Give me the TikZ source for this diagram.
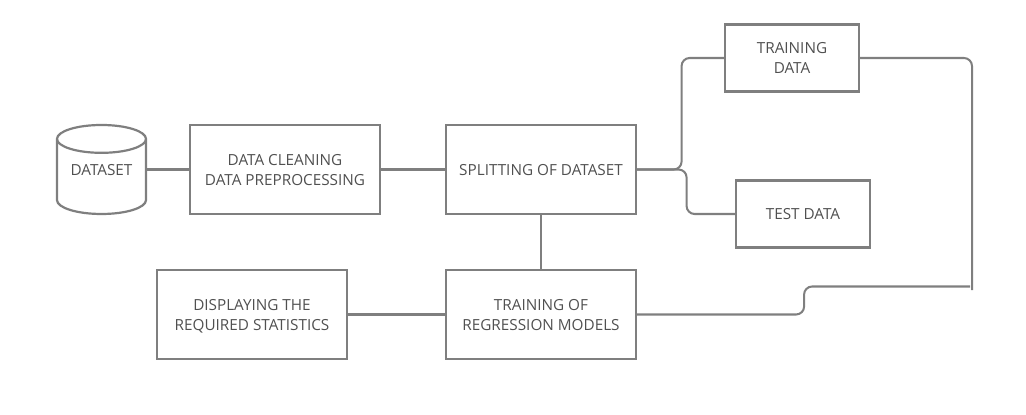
\documentclass[tikz,border=0pt]{standalone}
\usepackage{fontspec}
\setmainfont{Open Sans}
\usetikzlibrary{shapes.geometric}

\definecolor{boxgray}{HTML}{7F7F7F}
\definecolor{labelgray}{HTML}{505050}
\tikzset{
    block/.style={draw=boxgray, line width=1.25pt, text=labelgray, align=center, font=\fontsize{8.7}{11.4}\selectfont,
        minimum width=3.8cm, minimum height=1.78cm, inner sep=0pt, text depth=-2.2pt},
    smallblock/.style={block, minimum width=2.68cm, minimum height=1.34cm},
    wire/.style={draw=boxgray, line width=1.15pt, rounded corners=0.16cm},
}

\begin{document}
\begin{tikzpicture}
    \useasboundingbox (0,0) rectangle (20.52,8.28);

    \node[draw=boxgray, line width=1.25pt, text=labelgray, font=\fontsize{8.7}{11.4}\selectfont, shape=cylinder,
        shape border rotate=90, aspect=0.45, minimum height=1.78cm, minimum width=1.78cm, inner sep=0pt] (dataset) at (2.03,4.74) {\raisebox{1.1pt}[0pt][0pt]{DATASET}};
    \node[block] (clean) at (5.70,4.89) {DATA CLEANING\\DATA PREPROCESSING};
    \node[block] (split) at (10.82,4.89) {SPLITTING OF DATASET};
    \node[block] (regress) at (10.82,1.99) {TRAINING OF\\REGRESSION MODELS};
    \node[block] (stats) at (5.04,1.99) {DISPLAYING THE\\REQUIRED STATISTICS};
    \node[smallblock] (trainset) at (15.84,7.12) {TRAINING\\DATA};
    \node[smallblock] (testset) at (16.06,4.0) {TEST DATA};

    \coordinate (railend) at (19.44,2.48);
    \coordinate (railjoin) at (19.4,2.55);

    \draw[wire] (clean.west -| dataset.east) -- (clean.west);
    \draw[wire] (clean) -- (split);
    \draw[wire] (split) -- (regress);
    \draw[wire] (regress) -- (stats);
    \draw[wire] (split.east) -- ++(0.89,0) |- (trainset.west);
    \draw[wire] (split.east) -- ++(0.99,0) |- (testset.west);
    \draw[wire] (trainset.east) -| (railend);
    \draw[wire] (regress.east) -- ++(3.34,0) |- (railjoin);
\end{tikzpicture}
\end{document}
